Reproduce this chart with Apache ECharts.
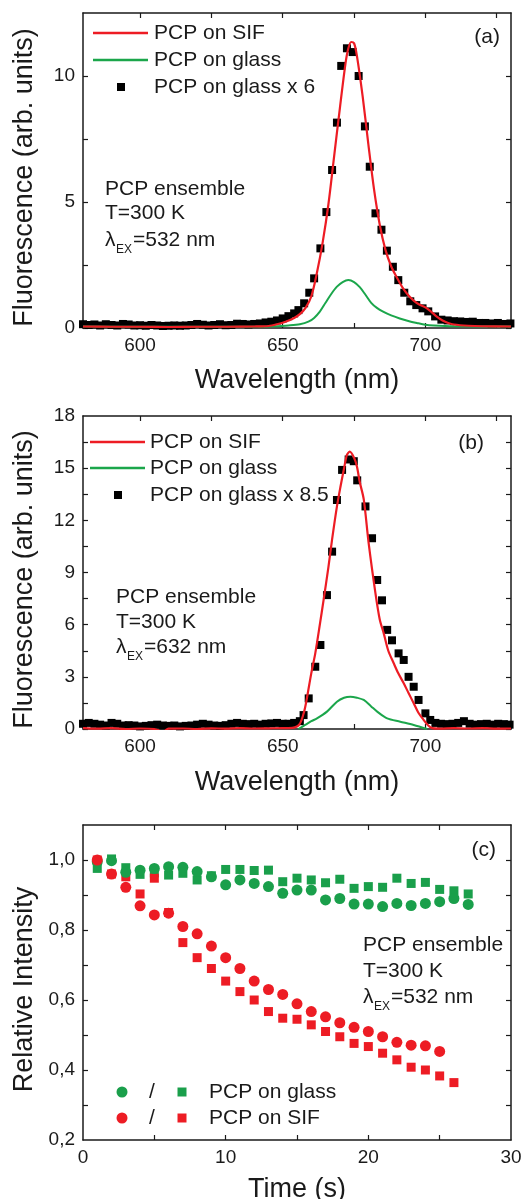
<!DOCTYPE html>
<html>
<head>
<meta charset="utf-8">
<script src="https://cdn.jsdelivr.net/npm/echarts@6/dist/echarts.min.js"></script>
<style>
  html, body { margin: 0; padding: 0; background: #fff; }
  #chart { width: 525px; height: 1199px; }
</style>
</head>
<body>
<div id="chart"></div>
<script>
// (a) excitation 532 nm
var sifAx = [580, 590, 600, 610, 620, 630, 640, 645, 648, 651, 654, 656, 658, 660, 662, 664, 666, 668, 670, 672, 673, 674, 675, 676, 678, 680, 682, 684, 686, 688, 690, 692, 694, 696, 698, 700, 702, 704, 706, 708, 710, 715, 720, 730];
var sifAy = [0.06, 0.05, 0.05, 0.04, 0.05, 0.05, 0.06, 0.08, 0.15, 0.25, 0.4, 0.55, 0.8, 1.25, 2.2, 3.4, 4.9, 6.8, 8.7, 10.5, 11.1, 11.35, 11.3, 10.8, 9.2, 7.3, 5.5, 4.1, 3.1, 2.45, 2.0, 1.6, 1.3, 1.08, 0.92, 0.82, 0.65, 0.45, 0.3, 0.2, 0.14, 0.09, 0.07, 0.06];
var glassAx = [580, 600, 620, 640, 648, 652, 656, 659, 661, 663, 665, 667, 669, 671, 673, 675, 677, 679, 681, 683, 685, 688, 691, 694, 697, 700, 703, 710, 730];
var glassAy = [0.06, 0.05, 0.05, 0.05, 0.07, 0.1, 0.15, 0.25, 0.4, 0.65, 1.0, 1.35, 1.64, 1.82, 1.9, 1.82, 1.62, 1.32, 1.0, 0.8, 0.66, 0.5, 0.38, 0.28, 0.2, 0.13, 0.1, 0.07, 0.06];
var timesSixAx = [580, 582, 584, 586, 588, 590, 592, 594, 596, 598, 600, 602, 604, 606, 608, 610, 612, 614, 616, 618, 620, 622, 624, 626, 628, 630, 632, 634, 636, 638, 640, 642, 644, 646, 648, 650, 652, 654, 655.5, 657.5, 659.3, 661, 663.2, 665.3, 667.3, 669, 670.5, 672.5, 674.5, 676.6, 678.8, 680.5, 682.5, 684.6, 686.5, 688.6, 690.5, 692.6, 694.7, 696.8, 699, 701, 703.4, 705.6, 707.8, 710, 712.2, 714.4, 716.6, 718.8, 721, 723.2, 725.4, 727.6, 729.8];
var timesSixAy = [0.15, 0.12, 0.14, 0.1, 0.15, 0.12, 0.1, 0.16, 0.14, 0.1, 0.11, 0.09, 0.12, 0.1, 0.08, 0.09, 0.1, 0.09, 0.1, 0.12, 0.16, 0.13, 0.1, 0.12, 0.15, 0.11, 0.12, 0.17, 0.16, 0.14, 0.16, 0.18, 0.22, 0.25, 0.3, 0.38, 0.47, 0.58, 0.71, 0.98, 1.4, 1.97, 3.16, 4.6, 6.27, 8.15, 10.4, 11.1, 10.95, 10.0, 8.0, 6.4, 4.55, 3.9, 3.07, 2.43, 1.9, 1.4, 1.06, 0.91, 0.78, 0.66, 0.46, 0.33, 0.3, 0.27, 0.26, 0.24, 0.25, 0.2, 0.2, 0.18, 0.2, 0.16, 0.18];

// (b) excitation 632 nm
var sifBx = [580, 585, 590, 595, 600, 605, 608, 610, 615, 620, 625, 630, 635, 640, 645, 650, 654, 656, 657.5, 658.5, 660, 661.4, 663, 664.3, 666, 667.3, 669, 670.2, 671.5, 672.5, 673.5, 675, 676, 677, 678.4, 680.1, 682.5, 684, 685.4, 687, 688.9, 690.5, 692.4, 694, 695.9, 697.5, 699.4, 701, 702.4, 705, 710, 715, 720, 725, 730];
var sifBy = [0.05, 0.02, 0.05, 0.0, 0.03, 0.0, -0.15, 0.02, 0.03, 0.0, 0.04, 0.02, 0.05, 0.03, 0.04, 0.05, 0.08, 0.3, 1.0, 1.8, 3.2, 4.35, 6.0, 7.4, 9.3, 10.9, 12.8, 13.9, 15.0, 15.76, 15.95, 15.6, 15.1, 14.2, 13.2, 10.7, 7.8, 6.3, 5.5, 4.5, 3.78, 3.2, 2.63, 2.1, 1.48, 0.95, 0.52, 0.2, 0.05, 0.02, 0.05, 0.03, 0.05, 0.02, 0.03];
var glassBx = [655.5, 658, 660, 662, 665.5, 669, 671.5, 673.7, 676, 678.4, 681, 683.1, 686.6, 691.2, 695.9, 700.6];
var glassBy = [0.0, 0.25, 0.45, 0.61, 1.0, 1.57, 1.8, 1.86, 1.8, 1.67, 1.3, 1.0, 0.61, 0.42, 0.23, 0.0];
var timesEightBx = [580, 582, 584, 586, 588, 590, 592, 594, 596, 598, 600, 602, 604, 606, 608, 610, 612, 614, 616, 618, 620, 622, 624, 626, 628, 630, 632, 634, 636, 638, 640, 642, 644, 646, 648, 650, 652, 654, 656, 657.3, 659.1, 661.4, 663.2, 665.5, 667.3, 669, 670.8, 673.1, 674.9, 676.1, 679, 681.3, 683.1, 684.8, 686.6, 688.3, 690.6, 692.4, 694.1, 695.9, 697.6, 700, 701.7, 703.5, 705.5, 707.5, 709.5, 711.5, 713.5, 715.5, 717.5, 719.5, 721.5, 723.5, 725.5, 727.5, 729.5];
var timesEightBy = [0.3, 0.35, 0.3, 0.25, 0.2, 0.35, 0.3, 0.2, 0.22, 0.2, 0.15, 0.18, 0.22, 0.25, 0.2, 0.18, 0.2, 0.15, 0.18, 0.2, 0.25, 0.3, 0.25, 0.2, 0.18, 0.22, 0.3, 0.35, 0.3, 0.28, 0.3, 0.25, 0.3, 0.32, 0.35, 0.3, 0.3, 0.35, 0.45, 0.8, 1.76, 3.58, 4.83, 7.7, 10.2, 13.17, 14.9, 15.5, 15.4, 14.3, 12.8, 10.97, 8.57, 7.4, 5.7, 5.1, 4.35, 3.97, 3.0, 2.43, 1.67, 0.9, 0.52, 0.35, 0.3, 0.28, 0.3, 0.35, 0.45, 0.3, 0.25, 0.28, 0.3, 0.25, 0.3, 0.28, 0.25];

// (c) photobleaching
var timeC = [1, 2, 3, 4, 5, 6, 7, 8, 9, 10, 11, 12, 13, 14, 15, 16, 17, 18, 19, 20, 21, 22, 23, 24, 25, 26, 27];
var glassCircle = [0.995, 0.998, 0.965, 0.971, 0.976, 0.981, 0.979, 0.967, 0.952, 0.929, 0.943, 0.933, 0.924, 0.905, 0.914, 0.914, 0.886, 0.89, 0.874, 0.874, 0.867, 0.876, 0.87, 0.876, 0.881, 0.89, 0.873];
var glassSquare = [0.976, 1.003, 0.978, 0.959, 0.963, 0.957, 0.962, 0.943, 0.955, 0.973, 0.973, 0.97, 0.971, 0.938, 0.948, 0.943, 0.935, 0.945, 0.919, 0.924, 0.922, 0.948, 0.933, 0.936, 0.916, 0.912, 0.903];
var sifCircle = [1.0, 0.96, 0.922, 0.869, 0.843, 0.848, 0.81, 0.789, 0.754, 0.721, 0.69, 0.654, 0.63, 0.616, 0.589, 0.567, 0.552, 0.535, 0.522, 0.51, 0.495, 0.479, 0.471, 0.469, 0.453];
var sifSquare = [1.0, 0.96, 0.952, 0.903, 0.948, 0.85, 0.764, 0.721, 0.69, 0.654, 0.624, 0.6, 0.567, 0.548, 0.545, 0.529, 0.51, 0.495, 0.476, 0.467, 0.448, 0.429, 0.408, 0.4, 0.383, 0.364];

// tick positions and labelled ticks
var wlTicks = [600, 625, 650, 675, 700, 725];
var wlLabels = [600, 650, 700];
var fluoATicks = [0, 2.5, 5, 7.5, 10];
var fluoALabels = [0, 5, 10];
var fluoBTicks = [0, 1.5, 3, 4.5, 6, 7.5, 9, 10.5, 12, 13.5, 15, 16.5];
var fluoBLabels = [0, 3, 6, 9, 12, 15, 18];
var timeTicks = [5, 10, 15, 20, 25];
var timeLabels = [0, 10, 20, 30];
var relTicks = [0.3, 0.4, 0.5, 0.6, 0.7, 0.8, 0.9, 1.0];
var relLabels = [0.2, 0.4, 0.6, 0.8, 1.0];

var RED = '#ed1c24';
var GREEN = '#1ba64b';
var GREEN_DOT = '#1a9f4b';
var INK = '#1a1a1a';
var FONT = '"Liberation Sans", Arial, sans-serif';

function zip(xs, ys) {
  return ys.map(function (y, i) { return [xs[i], y]; });
}

function axis(kind, grid, min, max, ticks, labels, name, gap, mirror, fmt) {
  var pos = kind === 'x' ? (mirror ? 'top' : 'bottom') : (mirror ? 'right' : 'left');
  return {
    type: 'value', gridIndex: grid, min: min, max: max, position: pos,
    name: mirror ? '' : name, nameLocation: 'middle', nameGap: gap,
    nameTextStyle: { fontSize: 27, fontFamily: FONT, color: INK, padding: kind === 'y' ? [0, 14, 0, 0] : 0 },
    axisLine: { show: true, onZero: false, lineStyle: { color: INK, width: 1.5 } },
    axisTick: { show: true, inside: true, length: 5, customValues: ticks, lineStyle: { color: INK, width: 1.2 } },
    axisLabel: {
      show: !mirror, fontSize: 19, fontFamily: FONT, color: INK, margin: 8,
      customValues: labels,
      formatter: fmt || function (v) { return String(v); }
    },
    splitLine: { show: false }
  };
}

function txt(x, y, s, size, align) {
  return {
    type: 'text', x: x, y: y, silent: true,
    style: { text: s, font: (size || 21) + 'px ' + FONT, fill: INK, textAlign: align || 'left', textVerticalAlign: 'middle' }
  };
}
function lambda(x, y, nm) {
  return [
    txt(x, y, 'λ', 21),
    txt(x + 11, y + 10, 'EX', 12),
    txt(x + 28, y, '=' + nm + ' nm', 21)
  ];
}
function seg(x1, x2, y, color) {
  return { type: 'line', silent: true, shape: { x1: x1, y1: y, x2: x2, y2: y }, style: { stroke: color, lineWidth: 2.5 } };
}
function sq(cx, cy, s, color) {
  return { type: 'rect', silent: true, shape: { x: cx - s / 2, y: cy - s / 2, width: s, height: s }, style: { fill: color } };
}
function dot(cx, cy, r, color) {
  return { type: 'circle', silent: true, shape: { cx: cx, cy: cy, r: r }, style: { fill: color } };
}

var comma = function (v) { return Number(v).toFixed(1).replace('.', ','); };

var graphics = [].concat(
  [seg(93, 148, 33, RED), txt(154, 33, 'PCP on SIF'),
   seg(93, 148, 60, GREEN), txt(154, 60, 'PCP on glass'),
   sq(121, 87, 8, '#000'), txt(154, 87, 'PCP on glass x 6'),
   txt(500, 37, '(a)', 21, 'right'),
   txt(105, 189, 'PCP ensemble'), txt(105, 213, 'T=300 K')],
  lambda(105, 240, '532'),
  [seg(90, 145, 442, RED), txt(150, 442, 'PCP on SIF'),
   seg(90, 145, 468, GREEN), txt(150, 468, 'PCP on glass'),
   sq(118, 495, 8, '#000'), txt(150, 495, 'PCP on glass x 8.5'),
   txt(484, 443, '(b)', 21, 'right'),
   txt(116, 597, 'PCP ensemble'), txt(116, 622, 'T=300 K')],
  lambda(116, 647, '632'),
  [txt(496, 850, '(c)', 21, 'right'),
   txt(363, 945, 'PCP ensemble'), txt(363, 971, 'T=300 K')],
  lambda(363, 997, '532'),
  [dot(122, 1092, 5.5, GREEN_DOT), txt(152, 1092, '/', 21, 'center'), sq(182, 1092, 9, GREEN_DOT), txt(209, 1092, 'PCP on glass'),
   dot(122, 1118, 5.5, RED), txt(152, 1118, '/', 21, 'center'), sq(182, 1118, 9, RED), txt(209, 1118, 'PCP on SIF')]
);

var chart = echarts.init(document.getElementById('chart'));
chart.setOption({
  backgroundColor: '#fff',
  animation: false,
  grid: [
    { left: 83, top: 13, width: 428, height: 315, outerBoundsMode: 'none' },
    { left: 83, top: 416, width: 428, height: 313, outerBoundsMode: 'none' },
    { left: 83, top: 825, width: 428, height: 315, outerBoundsMode: 'none' }
  ],
  xAxis: [
    axis('x', 0, 580, 730, wlTicks, wlLabels, 'Wavelength (nm)', 39, false),
    axis('x', 0, 580, 730, wlTicks, [], '', 0, true),
    axis('x', 1, 580, 730, wlTicks, wlLabels, 'Wavelength (nm)', 40, false),
    axis('x', 1, 580, 730, wlTicks, [], '', 0, true),
    axis('x', 2, 0, 30, timeTicks, timeLabels, 'Time (s)', 36, false),
    axis('x', 2, 0, 30, timeTicks, [], '', 0, true)
  ],
  yAxis: [
    axis('y', 0, 0, 12.5, fluoATicks, fluoALabels, 'Fluorescence (arb. units)', 45, false),
    axis('y', 0, 0, 12.5, fluoATicks, [], '', 0, true),
    axis('y', 1, 0, 18, fluoBTicks, fluoBLabels, 'Fluorescence (arb. units)', 45, false),
    axis('y', 1, 0, 18, fluoBTicks, [], '', 0, true),
    axis('y', 2, 0.2, 1.1, relTicks, relLabels, 'Relative Intensity', 45, false, comma),
    axis('y', 2, 0.2, 1.1, relTicks, [], '', 0, true)
  ],
  series: [
    { name: 'PCP on glass x 6', type: 'scatter', xAxisIndex: 0, yAxisIndex: 0, symbol: 'rect', symbolSize: 8,
      itemStyle: { color: '#000', opacity: 1 }, data: zip(timesSixAx, timesSixAy), z: 2 },
    { name: 'PCP on glass', type: 'line', xAxisIndex: 0, yAxisIndex: 0, showSymbol: false, smooth: 0.3,
      lineStyle: { color: GREEN, width: 2 }, data: zip(glassAx, glassAy), z: 3 },
    { name: 'PCP on SIF', type: 'line', xAxisIndex: 0, yAxisIndex: 0, showSymbol: false, smooth: 0.3,
      lineStyle: { color: RED, width: 2.2 }, data: zip(sifAx, sifAy), z: 4 },

    { name: 'PCP on glass x 8.5', type: 'scatter', xAxisIndex: 2, yAxisIndex: 2, symbol: 'rect', symbolSize: 8,
      itemStyle: { color: '#000', opacity: 1 }, data: zip(timesEightBx, timesEightBy), z: 2 },
    { name: 'PCP on glass', type: 'line', xAxisIndex: 2, yAxisIndex: 2, showSymbol: false, smooth: 0.3,
      lineStyle: { color: GREEN, width: 2 }, data: zip(glassBx, glassBy), z: 3 },
    { name: 'PCP on SIF', type: 'line', xAxisIndex: 2, yAxisIndex: 2, showSymbol: false, smooth: 0.3,
      lineStyle: { color: RED, width: 2.2 }, data: zip(sifBx, sifBy), z: 4 },

    { name: 'glass square', type: 'scatter', xAxisIndex: 4, yAxisIndex: 4, symbol: 'rect', symbolSize: 9,
      itemStyle: { color: GREEN_DOT, opacity: 1 }, data: zip(timeC, glassSquare), z: 2 },
    { name: 'glass circle', type: 'scatter', xAxisIndex: 4, yAxisIndex: 4, symbol: 'circle', symbolSize: 11,
      itemStyle: { color: GREEN_DOT, opacity: 1 }, data: zip(timeC, glassCircle), z: 3 },
    { name: 'SIF square', type: 'scatter', xAxisIndex: 4, yAxisIndex: 4, symbol: 'rect', symbolSize: 9,
      itemStyle: { color: RED, opacity: 1 }, data: zip(timeC, sifSquare), z: 2 },
    { name: 'SIF circle', type: 'scatter', xAxisIndex: 4, yAxisIndex: 4, symbol: 'circle', symbolSize: 11,
      itemStyle: { color: RED, opacity: 1 }, data: zip(timeC, sifCircle), z: 4 }
  ],
  graphic: graphics
});
</script>
</body>
</html>
